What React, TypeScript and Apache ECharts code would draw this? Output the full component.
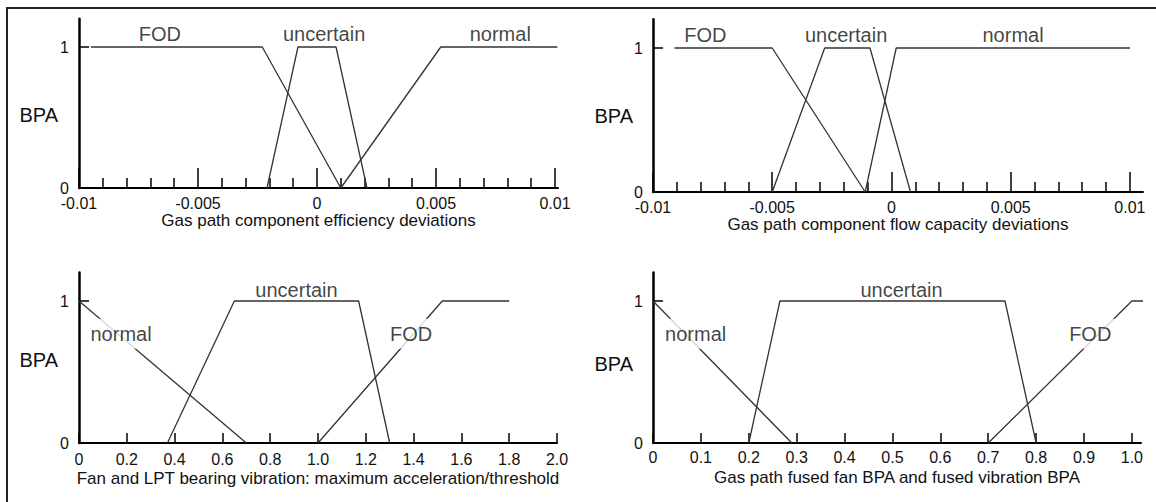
import React, { useEffect, useRef } from "react";
import * as echarts from "echarts";

const FONT = "'Liberation Sans', Arial, sans-serif";
const INK = "#111";
const LINE = "#333";

// ---- Panel 1: gas path component efficiency deviations ----
const effFOD = [[-0.0095, 1], [-0.0023, 1], [0.001, 0]];
const effUncertain = [[-0.0021, 0], [-0.0008, 1], [0.0008, 1], [0.0021, 0]];
const effNormal = [[0.001, 0], [0.0052, 1], [0.0101, 1]];
const effLabels = [
  { name: "FOD", value: [-0.0066, 1.09] },
  { name: "uncertain", value: [0.0003, 1.09] },
  { name: "normal", value: [0.0077, 1.09] },
];
const devMajorTicks = [-0.01, -0.005, 0, 0.005, 0.01];
const devMinorTicks = [
  -0.009, -0.008, -0.007, -0.006, -0.004, -0.003, -0.002, -0.001,
  0.001, 0.002, 0.003, 0.004, 0.006, 0.007, 0.008, 0.009,
];

// ---- Panel 2: gas path component flow capacity deviations ----
const flowFOD = [[-0.0091, 1], [-0.005, 1], [-0.0011, 0]];
const flowUncertain = [[-0.005, 0], [-0.0028, 1], [-0.0009, 1], [0.0008, 0]];
const flowNormal = [[-0.0011, 0], [0.0002, 1], [0.01, 1]];
const flowLabels = [
  { name: "FOD", value: [-0.0078, 1.09] },
  { name: "uncertain", value: [-0.0019, 1.09] },
  { name: "normal", value: [0.0051, 1.09] },
];

// ---- Panel 3: fan and LPT bearing vibration ----
const vibNormal = [[0, 1], [0.7, 0]];
const vibUncertain = [[0.37, 0], [0.65, 1], [1.17, 1], [1.3, 0]];
const vibFOD = [[1.0, 0], [1.52, 1], [1.8, 1]];
const vibLabels = [
  { name: "uncertain", value: [0.91, 1.08] },
  { name: "normal", value: [0.176, 0.77] },
  { name: "FOD", value: [1.39, 0.77] },
];
const vibTicks = [0, 0.2, 0.4, 0.6, 0.8, 1.0, 1.2, 1.4, 1.6, 1.8, 2.0];

// ---- Panel 4: fused fan BPA and fused vibration BPA ----
const fusNormal = [[0, 1], [0.29, 0]];
const fusUncertain = [[0.2, 0], [0.265, 1], [0.735, 1], [0.8, 0]];
const fusFOD = [[0.7, 0], [1.0, 1], [1.05, 1]];
const fusLabels = [
  { name: "uncertain", value: [0.519, 1.08] },
  { name: "normal", value: [0.089, 0.77] },
  { name: "FOD", value: [0.913, 0.77] },
];
const fusTicks = [0, 0.1, 0.2, 0.3, 0.4, 0.5, 0.6, 0.7, 0.8, 0.9, 1.0];

const yTicks = [1];
const yLabels = [0, 1];
const yTitle = "BPA";

type Panel = {
  grid: { left: number; top: number; width: number; height: number };
  xMin: number;
  xMax: number;
  major: number[];
  minor: number[];
  majorLen: number;
  fmt: (v: number) => string;
  xName: string;
  nameGap: number;
  labelMargin: number;
  lines: number[][][];
  labels: { name: string; value: number[] }[];
  boxed: boolean;
  bpa: { x: number; y: number };
};

const fmtDev = (v: number) => String(v);
const fmt1 = (v: number) => (v === 0 ? "0" : v.toFixed(1));

const panels: Panel[] = [
  {
    grid: { left: 79, top: 18.8, width: 479, height: 169.2 },
    xMin: -0.01, xMax: 0.010126,
    major: devMajorTicks, minor: devMinorTicks, majorLen: 20,
    fmt: fmtDev, xName: "Gas path component efficiency deviations",
    nameGap: 23, labelMargin: 9,
    lines: [effFOD, effUncertain, effNormal], labels: effLabels, boxed: false,
    bpa: { x: 58, y: 115 },
  },
  {
    grid: { left: 653, top: 19.2, width: 490, height: 172.8 },
    xMin: -0.01, xMax: 0.01055,
    major: devMajorTicks, minor: devMinorTicks, majorLen: 20,
    fmt: fmtDev, xName: "Gas path component flow capacity deviations",
    nameGap: 23, labelMargin: 9,
    lines: [flowFOD, flowUncertain, flowNormal], labels: flowLabels, boxed: false,
    bpa: { x: 633, y: 116 },
  },
  {
    grid: { left: 79, top: 272.6, width: 478, height: 170.4 },
    xMin: 0, xMax: 2.0,
    major: vibTicks, minor: [], majorLen: 10,
    fmt: fmt1, xName: "Fan and LPT bearing vibration: maximum acceleration/threshold",
    nameGap: 26, labelMargin: 10,
    lines: [vibNormal, vibUncertain, vibFOD], labels: vibLabels, boxed: true,
    bpa: { x: 58, y: 360 },
  },
  {
    grid: { left: 653, top: 272.6, width: 488, height: 170.4 },
    xMin: 0, xMax: 1.019,
    major: fusTicks, minor: [], majorLen: 10,
    fmt: fmt1, xName: "Gas path fused fan BPA and fused vibration BPA",
    nameGap: 25, labelMargin: 8,
    lines: [fusNormal, fusUncertain, fusFOD], labels: fusLabels, boxed: true,
    bpa: { x: 633, y: 364 },
  },
];

function buildOption() {
  const grid: any[] = [];
  const xAxis: any[] = [];
  const yAxis: any[] = [];
  const series: any[] = [];
  const graphic: any[] = [
    { type: "line", shape: { x1: 7, y1: 8, x2: 1156, y2: 8 }, style: { stroke: "#222", lineWidth: 2 } },
    { type: "line", shape: { x1: 7, y1: 7, x2: 7, y2: 502 }, style: { stroke: "#222", lineWidth: 2 } },
  ];

  panels.forEach((p, i) => {
    grid.push({ ...p.grid, containLabel: false, outerBoundsMode: "none" });
    const mainIdx = xAxis.length;
    xAxis.push({
      type: "value",
      gridIndex: i,
      min: p.xMin,
      max: p.xMax,
      position: "bottom",
      name: p.xName,
      nameLocation: "middle",
      nameGap: p.nameGap,
      nameMoveOverlap: false,
      nameTextStyle: { fontSize: 17, lineHeight: 18, color: INK, fontFamily: FONT },
      axisLine: { show: true, onZero: false, lineStyle: { color: "#000", width: 2 } },
      axisTick: {
        show: true, inside: true, length: p.majorLen, customValues: p.major,
        lineStyle: { color: "#000", width: 1.5 },
      },
      axisLabel: {
        show: true, customValues: p.major, margin: p.labelMargin,
        formatter: p.fmt, fontSize: 16, lineHeight: 13, color: INK, fontFamily: FONT,
        showMinLabel: true, showMaxLabel: true, hideOverlap: false,
      },
      splitLine: { show: false },
    });
    if (p.minor.length) {
      xAxis.push({
        type: "value",
        gridIndex: i,
        min: p.xMin,
        max: p.xMax,
        position: "bottom",
        axisLine: { show: false, onZero: false },
        axisTick: {
          show: true, inside: true, length: 10, customValues: p.minor,
          lineStyle: { color: "#000", width: 1.5 },
        },
        axisLabel: { show: false },
        splitLine: { show: false },
      });
    }
    yAxis.push({
      type: "value",
      gridIndex: i,
      min: 0,
      max: 1.2,
      axisLine: { show: true, onZero: false, lineStyle: { color: "#000", width: 2.5 } },
      axisTick: {
        show: true, inside: true, length: 10, customValues: yTicks,
        lineStyle: { color: "#000", width: 1.5 },
      },
      axisLabel: {
        show: true, customValues: yLabels, margin: 10,
        fontSize: 16, lineHeight: 13, padding: [0, 0, 4, 0],
        color: INK, fontFamily: FONT,
      },
      splitLine: { show: false },
    });

    graphic.push({
      type: "text",
      x: p.bpa.x,
      y: p.bpa.y,
      style: {
        text: yTitle,
        fill: INK,
        fontSize: 20,
        fontFamily: FONT,
        align: "right",
        verticalAlign: "middle",
      },
    });

    p.lines.forEach((d) => {
      series.push({
        type: "line",
        xAxisIndex: mainIdx,
        yAxisIndex: i,
        data: d,
        symbol: "none",
        clip: false,
        silent: true,
        lineStyle: { color: LINE, width: 1.3 },
        z: 2,
      });
    });

    series.push({
      type: "scatter",
      xAxisIndex: mainIdx,
      yAxisIndex: i,
      symbolSize: 1,
      silent: true,
      z: 5,
      itemStyle: { color: "rgba(0,0,0,0)" },
      data: p.labels.map((l) => ({
        name: l.name,
        value: l.value,
        label:
          p.boxed && l.name !== "uncertain"
            ? { backgroundColor: "#fff", padding: [5, 6] }
            : {},
      })),
      label: {
        show: true,
        position: "inside",
        formatter: "{b}",
        fontSize: 20,
        color: INK,
        fontFamily: FONT,
      },
    });
  });

  return {
    animation: false,
    backgroundColor: "#fff",
    grid,
    xAxis,
    yAxis,
    series,
    graphic,
  };
}

export default function App() {
  const ref = useRef<HTMLDivElement>(null);
  useEffect(() => {
    if (!ref.current) return;
    const chart = echarts.init(ref.current, null, { renderer: "svg" });
    chart.setOption(buildOption() as any);
    return () => chart.dispose();
  }, []);
  return (
    <div
      ref={ref}
      style={{ position: "fixed", left: 0, top: 0, width: 1156, height: 502, background: "#fff" }}
    />
  );
}
